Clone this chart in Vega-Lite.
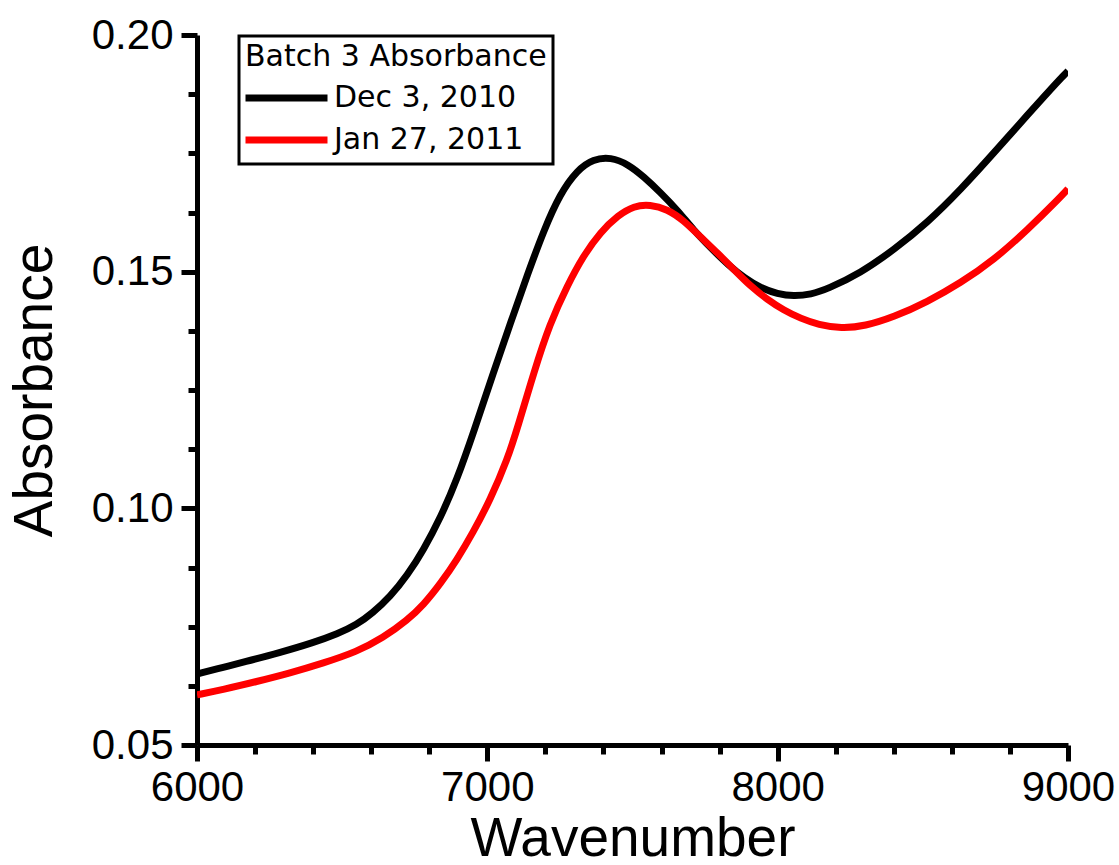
{
  "$schema": "https://vega.github.io/schema/vega-lite/v6.json",
  "width": 871,
  "height": 710,
  "autosize": {"type": "none"},
  "padding": {"left": 197, "top": 35, "right": 51, "bottom": 120},
  "background": "white",
  "config": {"view": {"stroke": null}, "font": "Liberation Sans", "legend": {"strokeWidth": 3}},
  "data": {
    "values": [
      {"series": "Dec 3, 2010", "wavenumber": 6000, "absorbance": 0.0650},
      {"series": "Dec 3, 2010", "wavenumber": 6090, "absorbance": 0.0664},
      {"series": "Dec 3, 2010", "wavenumber": 6160, "absorbance": 0.0675},
      {"series": "Dec 3, 2010", "wavenumber": 6285, "absorbance": 0.0695},
      {"series": "Dec 3, 2010", "wavenumber": 6400, "absorbance": 0.0716},
      {"series": "Dec 3, 2010", "wavenumber": 6485, "absorbance": 0.0735},
      {"series": "Dec 3, 2010", "wavenumber": 6550, "absorbance": 0.0754},
      {"series": "Dec 3, 2010", "wavenumber": 6605, "absorbance": 0.0779},
      {"series": "Dec 3, 2010", "wavenumber": 6665, "absorbance": 0.0813},
      {"series": "Dec 3, 2010", "wavenumber": 6725, "absorbance": 0.0859},
      {"series": "Dec 3, 2010", "wavenumber": 6780, "absorbance": 0.0912},
      {"series": "Dec 3, 2010", "wavenumber": 6840, "absorbance": 0.0982},
      {"series": "Dec 3, 2010", "wavenumber": 6895, "absorbance": 0.1060},
      {"series": "Dec 3, 2010", "wavenumber": 6955, "absorbance": 0.1165},
      {"series": "Dec 3, 2010", "wavenumber": 7020, "absorbance": 0.1285},
      {"series": "Dec 3, 2010", "wavenumber": 7080, "absorbance": 0.1392},
      {"series": "Dec 3, 2010", "wavenumber": 7140, "absorbance": 0.1497},
      {"series": "Dec 3, 2010", "wavenumber": 7195, "absorbance": 0.1588},
      {"series": "Dec 3, 2010", "wavenumber": 7250, "absorbance": 0.1664},
      {"series": "Dec 3, 2010", "wavenumber": 7310, "absorbance": 0.1715},
      {"series": "Dec 3, 2010", "wavenumber": 7365, "absorbance": 0.1738},
      {"series": "Dec 3, 2010", "wavenumber": 7425, "absorbance": 0.1742},
      {"series": "Dec 3, 2010", "wavenumber": 7485, "absorbance": 0.1727},
      {"series": "Dec 3, 2010", "wavenumber": 7540, "absorbance": 0.1700},
      {"series": "Dec 3, 2010", "wavenumber": 7595, "absorbance": 0.1668},
      {"series": "Dec 3, 2010", "wavenumber": 7655, "absorbance": 0.1630},
      {"series": "Dec 3, 2010", "wavenumber": 7710, "absorbance": 0.1588},
      {"series": "Dec 3, 2010", "wavenumber": 7770, "absorbance": 0.1550},
      {"series": "Dec 3, 2010", "wavenumber": 7830, "absorbance": 0.1514},
      {"series": "Dec 3, 2010", "wavenumber": 7885, "absorbance": 0.1487},
      {"series": "Dec 3, 2010", "wavenumber": 7940, "absorbance": 0.1466},
      {"series": "Dec 3, 2010", "wavenumber": 8000, "absorbance": 0.1453},
      {"series": "Dec 3, 2010", "wavenumber": 8055, "absorbance": 0.1448},
      {"series": "Dec 3, 2010", "wavenumber": 8115, "absorbance": 0.1452},
      {"series": "Dec 3, 2010", "wavenumber": 8170, "absorbance": 0.1463},
      {"series": "Dec 3, 2010", "wavenumber": 8285, "absorbance": 0.1497},
      {"series": "Dec 3, 2010", "wavenumber": 8400, "absorbance": 0.1546},
      {"series": "Dec 3, 2010", "wavenumber": 8515, "absorbance": 0.1603},
      {"series": "Dec 3, 2010", "wavenumber": 8630, "absorbance": 0.1673},
      {"series": "Dec 3, 2010", "wavenumber": 8745, "absorbance": 0.1751},
      {"series": "Dec 3, 2010", "wavenumber": 8860, "absorbance": 0.1831},
      {"series": "Dec 3, 2010", "wavenumber": 8975, "absorbance": 0.1909},
      {"series": "Dec 3, 2010", "wavenumber": 9000, "absorbance": 0.1924},
      {"series": "Jan 27, 2011", "wavenumber": 6000, "absorbance": 0.0606},
      {"series": "Jan 27, 2011", "wavenumber": 6090, "absorbance": 0.0617},
      {"series": "Jan 27, 2011", "wavenumber": 6205, "absorbance": 0.0634},
      {"series": "Jan 27, 2011", "wavenumber": 6320, "absorbance": 0.0652},
      {"series": "Jan 27, 2011", "wavenumber": 6435, "absorbance": 0.0673},
      {"series": "Jan 27, 2011", "wavenumber": 6550, "absorbance": 0.0697},
      {"series": "Jan 27, 2011", "wavenumber": 6640, "absorbance": 0.0726},
      {"series": "Jan 27, 2011", "wavenumber": 6725, "absorbance": 0.0764},
      {"series": "Jan 27, 2011", "wavenumber": 6780, "absorbance": 0.0796},
      {"series": "Jan 27, 2011", "wavenumber": 6840, "absorbance": 0.0842},
      {"series": "Jan 27, 2011", "wavenumber": 6895, "absorbance": 0.0891},
      {"series": "Jan 27, 2011", "wavenumber": 6950, "absorbance": 0.0948},
      {"series": "Jan 27, 2011", "wavenumber": 7010, "absorbance": 0.1018},
      {"series": "Jan 27, 2011", "wavenumber": 7070, "absorbance": 0.1105},
      {"series": "Jan 27, 2011", "wavenumber": 7105, "absorbance": 0.1172},
      {"series": "Jan 27, 2011", "wavenumber": 7160, "absorbance": 0.1287},
      {"series": "Jan 27, 2011", "wavenumber": 7215, "absorbance": 0.1390},
      {"series": "Jan 27, 2011", "wavenumber": 7275, "absorbance": 0.1470},
      {"series": "Jan 27, 2011", "wavenumber": 7330, "absorbance": 0.1533},
      {"series": "Jan 27, 2011", "wavenumber": 7390, "absorbance": 0.1584},
      {"series": "Jan 27, 2011", "wavenumber": 7450, "absorbance": 0.1619},
      {"series": "Jan 27, 2011", "wavenumber": 7505, "absorbance": 0.1639},
      {"series": "Jan 27, 2011", "wavenumber": 7560, "absorbance": 0.1642},
      {"series": "Jan 27, 2011", "wavenumber": 7620, "absorbance": 0.1632},
      {"series": "Jan 27, 2011", "wavenumber": 7675, "absorbance": 0.1609},
      {"series": "Jan 27, 2011", "wavenumber": 7735, "absorbance": 0.1573},
      {"series": "Jan 27, 2011", "wavenumber": 7795, "absorbance": 0.1538},
      {"series": "Jan 27, 2011", "wavenumber": 7850, "absorbance": 0.1504},
      {"series": "Jan 27, 2011", "wavenumber": 7905, "absorbance": 0.1470},
      {"series": "Jan 27, 2011", "wavenumber": 7965, "absorbance": 0.1441},
      {"series": "Jan 27, 2011", "wavenumber": 8020, "absorbance": 0.1419},
      {"series": "Jan 27, 2011", "wavenumber": 8080, "absorbance": 0.1401},
      {"series": "Jan 27, 2011", "wavenumber": 8140, "absorbance": 0.1388},
      {"series": "Jan 27, 2011", "wavenumber": 8220, "absorbance": 0.1380},
      {"series": "Jan 27, 2011", "wavenumber": 8300, "absorbance": 0.1385},
      {"series": "Jan 27, 2011", "wavenumber": 8400, "absorbance": 0.1404},
      {"series": "Jan 27, 2011", "wavenumber": 8515, "absorbance": 0.1436},
      {"series": "Jan 27, 2011", "wavenumber": 8630, "absorbance": 0.1476},
      {"series": "Jan 27, 2011", "wavenumber": 8745, "absorbance": 0.1525},
      {"series": "Jan 27, 2011", "wavenumber": 8860, "absorbance": 0.1588},
      {"series": "Jan 27, 2011", "wavenumber": 8975, "absorbance": 0.1658},
      {"series": "Jan 27, 2011", "wavenumber": 9000, "absorbance": 0.1675}
    ]
  },
  "layer": [
    {
      "mark": {"type": "point", "opacity": 0},
      "encoding": {
        "x": {
          "field": "wavenumber", "type": "quantitative",
          "scale": {"domain": [6000, 9000], "nice": false, "zero": false},
          "axis": {
            "orient": "bottom", "values": [6200, 6400, 6600, 6800, 7200, 7400, 7600, 7800, 8200, 8400, 8600, 8800],
            "domain": false, "labels": false, "grid": false, "title": null,
            "tickSize": 9, "tickWidth": 5, "tickColor": "#000000"
          }
        },
        "y": {
          "field": "absorbance", "type": "quantitative",
          "scale": {"domain": [0.05, 0.2], "nice": false, "zero": false},
          "axis": {
            "orient": "left", "values": [0.0625, 0.075, 0.0875, 0.1125, 0.125, 0.1375, 0.1625, 0.175, 0.1875],
            "domain": false, "labels": false, "grid": false, "title": null,
            "tickSize": 9, "tickWidth": 5, "tickColor": "#000000"
          }
        }
      }
    },
    {
      "mark": {"type": "line", "strokeWidth": 7, "interpolate": "basis", "clip": true},
      "encoding": {
        "x": {
          "field": "wavenumber", "type": "quantitative",
          "axis": {
            "orient": "bottom", "values": [6000, 7000, 8000, 9000], "format": "d",
            "domain": true, "domainColor": "#000000", "domainWidth": 5,
            "grid": false, "tickSize": 16, "tickWidth": 5, "tickColor": "#000000",
            "labelFont": "Liberation Sans", "labelFontSize": 42, "labelColor": "#000000", "labelPadding": 6,
            "labelFlush": false, "labelOverlap": false,
            "title": "Wavenumber", "titleFont": "Liberation Sans", "titleFontSize": 55,
            "titleFontWeight": "normal", "titleColor": "#000000", "titlePadding": 4
          }
        },
        "y": {
          "field": "absorbance", "type": "quantitative",
          "axis": {
            "orient": "left", "values": [0.05, 0.1, 0.15, 0.2], "format": ".2f",
            "domain": true, "domainColor": "#000000", "domainWidth": 5,
            "grid": false, "tickSize": 16, "tickWidth": 5, "tickColor": "#000000",
            "labelFont": "Liberation Sans", "labelFontSize": 42, "labelColor": "#000000", "labelPadding": 8,
            "labelFlush": false, "labelOverlap": false,
            "title": "Absorbance", "titleFont": "Liberation Sans", "titleFontSize": 55,
            "titleFontWeight": "normal", "titleColor": "#000000", "titlePadding": 28
          }
        },
        "color": {
          "field": "series", "type": "nominal",
          "scale": {"domain": ["Dec 3, 2010", "Jan 27, 2011"], "range": ["#000000", "#ff0000"]},
          "legend": {
            "orient": "none", "legendX": 42, "legendY": 1, "direction": "vertical",
            "title": "Batch 3 Absorbance", "titleFont": "DejaVu Sans", "titleFontSize": 30,
            "titleFontWeight": "normal", "titleColor": "#000000", "titlePadding": 8, "titleLimit": 500,
            "labelFont": "DejaVu Sans", "labelFontSize": 30, "labelColor": "#000000", "labelOffset": 3, "labelLimit": 500,
            "symbolType": "stroke", "symbolSize": 6724, "symbolStrokeWidth": 7, "symbolOffset": -3, "clipHeight": 36,
            "strokeColor": "#000000", "fillColor": "#ffffff", "padding": 6, "rowPadding": 6
          }
        }
      }
    }
  ],
  "resolve": {"axis": {"x": "independent", "y": "independent"}}
}
